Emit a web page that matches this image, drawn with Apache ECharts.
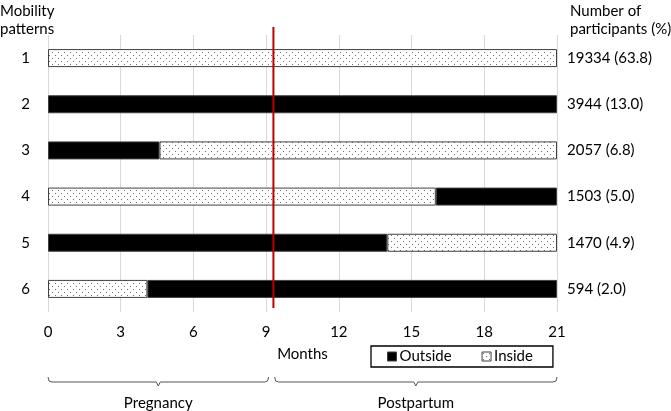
<!DOCTYPE html>
<html>
<head>
<meta charset="utf-8">
<script src="https://cdn.jsdelivr.net/npm/echarts@6/dist/echarts.min.js"></script>
<style>html,body{margin:0;padding:0;background:#fff}#c{width:671px;height:411px}</style>
</head>
<body>
<div id="c"></div>
<script>
const patterns = ['1', '2', '3', '4', '5', '6'];
const participants = ['19334 (63.8)', '3944 (13.0)', '2057 (6.8)', '1503 (5.0)', '1470 (4.9)', '594 (2.0)'];
const firstState = ['Inside', 'Outside', 'Outside', 'Inside', 'Outside', 'Inside'];
const switchMonth = [21, 21, 4.6, 16, 14, 4.1];
const endMonth = 21;
const deliveryMonth = 9.3;

const FONT = 'Lato';
const FS = 15;
const cv = document.createElement('canvas');
cv.width = 6; cv.height = 6;
const cx = cv.getContext('2d');
cx.fillStyle = '#fff'; cx.fillRect(0, 0, 6, 6);
cx.fillStyle = '#6e6e6e';
cx.fillRect(1, 1, 1, 1); cx.fillRect(4, 4, 1, 1);

function styleFor(state) {
  return state === 'Outside'
    ? { color: '#000', borderColor: '#404040', borderWidth: 1 }
    : { color: { image: cv, repeat: 'repeat' }, borderColor: '#404040', borderWidth: 1 };
}
const other = s => s === 'Outside' ? 'Inside' : 'Outside';

const seg1 = patterns.map((p, i) => ({ value: switchMonth[i], itemStyle: styleFor(firstState[i]) }));
const seg2 = patterns.map((p, i) => {
  const v = endMonth - switchMonth[i];
  return v > 0 ? { value: v, itemStyle: styleFor(other(firstState[i])) } : '-';
});

const chart = echarts.init(document.getElementById('c'), null, { renderer: 'canvas' });
const option = {
  animation: false,
  textStyle: { fontFamily: FONT },
  grid: { left: 48, right: 114, top: 35, bottom: 99 },
  xAxis: {
    type: 'value', min: 0, max: endMonth, interval: 3,
    axisLine: { show: false }, axisTick: { show: false },
    splitLine: { show: true, lineStyle: { color: '#d9d9d9', width: 1 } },
    axisLabel: { color: '#000', fontSize: FS, fontFamily: FONT, margin: 13 },
    name: 'Months', nameLocation: 'middle', nameGap: 35,
    nameTextStyle: { color: '#000', fontSize: FS, fontFamily: FONT }
  },
  yAxis: [
    {
      type: 'category', data: patterns, inverse: true,
      axisLine: { show: false }, axisTick: { show: false },
      axisLabel: { color: '#000', fontSize: FS, fontFamily: FONT, margin: 18 }
    },
    {
      type: 'category', data: participants, inverse: true, position: 'right',
      axisLine: { show: false }, axisTick: { show: false },
      axisLabel: { color: '#000', fontSize: FS, fontFamily: FONT, margin: 10 }
    }
  ],
  legend: {
    data: [{ name: 'Outside', itemStyle: styleFor('Outside') }, { name: 'Inside', itemStyle: styleFor('Inside') }],
    left: 371, top: 346, orient: 'horizontal',
    borderColor: '#000', borderWidth: 1.3, padding: [3, 20, 3, 16],
    itemWidth: 9, itemHeight: 9, itemGap: 30, icon: 'rect',
    textStyle: { color: '#000', fontSize: FS, fontFamily: FONT, padding: [0, 0, 0, -2] }
  },
  series: [
    { name: 'Outside', type: 'bar', data: [], itemStyle: styleFor('Outside') },
    { name: 'Inside', type: 'bar', data: [], itemStyle: styleFor('Inside') },
    { name: 'seg1', type: 'bar', stack: 'm', barWidth: 18, data: seg1 },
    { name: 'seg2', type: 'bar', stack: 'm', barWidth: 18, data: seg2 }
  ]
};
chart.setOption(option);

function brace(x0, x1, y) {
  const xm = (x0 + x1) / 2;
  return [[x0, y - 5], [x0 + 1, y - 1], [x0 + 4, y], [xm - 2, y], [xm, y + 4], [xm + 2, y], [x1 - 4, y], [x1 - 1, y - 1], [x1, y - 5]];
}
const px = v => chart.convertToPixel({ xAxisIndex: 0 }, v);
const xStart = px(0), xEnd = px(endMonth), xDel = px(deliveryMonth);
const xPregEnd = px(9.1), xPostStart = px(9.35);
const braceY = 382;
chart.setOption({
  graphic: [
    { type: 'text', x: 0, y: 2, style: { text: 'Mobility\npatterns', fill: '#000', font: '15px ' + FONT, lineHeight: 18 } },
    { type: 'text', x: 570, y: 2, style: { text: 'Number of\nparticipants (%)', fill: '#000', font: '15px ' + FONT, lineHeight: 18 } },
    { type: 'line', shape: { x1: xDel, y1: 27, x2: xDel, y2: 308 }, style: { stroke: '#c00000', lineWidth: 2 }, z: 10 },
    { type: 'polyline', shape: { points: brace(xStart, xPregEnd, braceY) }, style: { stroke: '#555', lineWidth: 1, fill: null } },
    { type: 'polyline', shape: { points: brace(xPostStart, xEnd, braceY) }, style: { stroke: '#555', lineWidth: 1, fill: null } },
    { type: 'text', x: (xStart + xPregEnd) / 2, y: 403, style: { text: 'Pregnancy', fill: '#000', font: FS + 'px ' + FONT, align: 'center', verticalAlign: 'middle' } },
    { type: 'text', x: (xPostStart + xEnd) / 2, y: 403, style: { text: 'Postpartum', fill: '#000', font: FS + 'px ' + FONT, align: 'center', verticalAlign: 'middle' } }
  ]
});
</script>
</body>
</html>
